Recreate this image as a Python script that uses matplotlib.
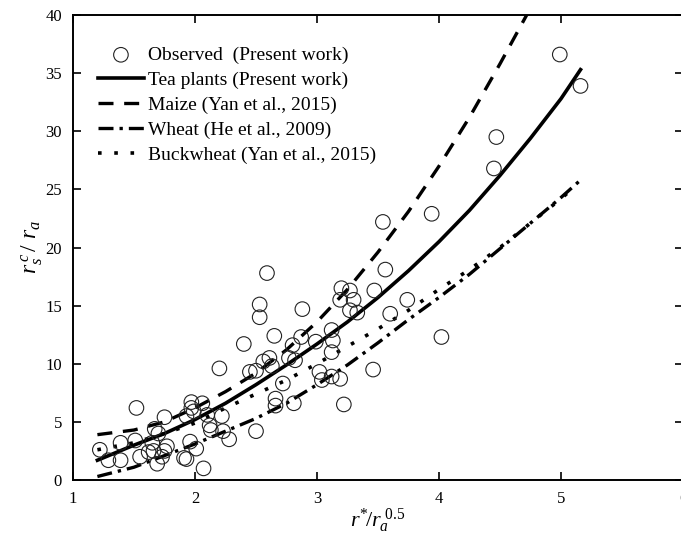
import numpy as np
import matplotlib
matplotlib.use("Agg")
import matplotlib.pyplot as plt

plt.rcParams['font.family'] = ['Liberation Serif', 'DejaVu Serif']
plt.rcParams['mathtext.fontset'] = 'custom'
plt.rcParams['mathtext.rm'] = 'Liberation Serif'
plt.rcParams['mathtext.it'] = 'Liberation Serif:italic'

# observed points
obs_x = [1.22, 1.29, 1.39, 1.39, 1.52, 1.51, 1.55, 1.62, 1.65, 1.67, 1.66, 1.69, 1.70,
         1.75, 1.77, 1.73, 1.75, 1.91, 1.93, 1.97, 1.97, 1.93, 1.99, 1.96, 2.01, 2.06,
         2.07, 2.10, 2.13, 2.12, 2.22, 2.23, 2.28, 2.20, 2.40, 2.45, 2.50, 2.53, 2.53,
         2.59, 2.50, 2.56, 2.61, 2.63, 2.65, 2.72, 2.66, 2.66, 2.81, 2.77, 2.80, 2.82,
         2.88, 2.87, 2.99, 3.02, 3.04, 3.12, 3.13, 3.12, 3.12, 3.19, 3.20, 3.27, 3.19,
         3.30, 3.27, 3.33, 3.47, 3.54, 3.56, 3.60, 3.74, 3.46, 3.22, 3.94, 4.02, 4.45,
         4.47, 4.99, 5.16]
obs_y = [2.6, 1.7, 1.7, 3.2, 6.2, 3.4, 2.0, 2.4, 3.2, 4.4, 2.5, 1.4, 4.0,
         5.4, 2.9, 2.0, 2.5, 1.9, 1.8, 6.7, 6.2, 5.5, 5.9, 3.3, 2.7, 6.6,
         1.0, 5.6, 4.3, 4.7, 5.5, 4.2, 3.5, 9.6, 11.7, 9.3, 9.4, 15.1, 14.0,
         17.8, 4.2, 10.2, 10.5, 9.8, 12.4, 8.3, 7.0, 6.4, 6.6, 10.5, 11.6, 10.3,
         14.7, 12.3, 11.9, 9.3, 8.6, 12.9, 12.0, 11.0, 8.9, 8.7, 16.5, 16.3, 15.5,
         15.5, 14.6, 14.4, 16.3, 22.2, 18.1, 14.3, 15.5, 9.5, 6.5, 22.9, 12.3, 26.8,
         29.5, 36.6, 33.9]

# fitted curves
tea_x = [1.2, 1.5, 1.75, 2.0, 2.25, 2.5, 2.75, 3.0, 3.25, 3.5, 3.75, 4.0, 4.25, 4.5, 4.75, 5.0, 5.16]
tea_y = [1.7, 3.0, 4.0, 5.2, 6.6, 8.2, 9.9, 11.7, 13.6, 15.7, 18.0, 20.5, 23.2, 26.2, 29.4, 32.8, 35.3]

maize_x = [1.2, 1.5, 1.75, 2.0, 2.25, 2.5, 2.75, 3.0, 3.25, 3.5, 3.75, 4.0, 4.25, 4.5, 4.75]
maize_y = [3.9, 4.3, 5.0, 6.2, 7.6, 9.2, 11.2, 13.6, 16.4, 19.6, 23.1, 27.0, 31.2, 35.8, 40.6]

wheat_x = [1.2, 1.5, 1.75, 2.0, 2.25, 2.5, 2.75, 3.0, 3.25, 3.5, 3.75, 4.0, 4.25, 4.5, 4.75, 5.0, 5.16]
wheat_y = [0.3, 1.1, 2.1, 3.1, 4.2, 5.3, 6.6, 8.2, 9.9, 11.8, 13.8, 15.7, 17.7, 19.9, 22.1, 24.3, 25.8]

buck_x = [1.2, 1.5, 1.75, 2.0, 2.25, 2.5, 2.75, 3.0, 3.25, 3.5, 3.75, 4.0, 4.25, 4.5, 4.75, 5.0, 5.12]
buck_y = [2.6, 3.2, 4.0, 4.9, 6.2, 7.4, 8.6, 10.0, 11.5, 13.0, 14.6, 16.4, 18.1, 20.0, 22.1, 24.2, 25.3]

fig = plt.figure(figsize=(6.81, 5.39), dpi=100)
ax = fig.add_axes([73/681, 59/539, 610/681, 465/539])

ax.scatter(obs_x, obs_y, s=110, facecolors='none', edgecolors='#222222', linewidths=0.8,
           label='Observed  (Present work)', zorder=3)
ax.plot(tea_x, tea_y, color='black', lw=2.6, label='Tea plants (Present work)')
ax.plot(maize_x, maize_y, color='black', lw=2.4, dashes=(4.5, 3.2), label='Maize (Yan et al., 2015)')
ax.plot(wheat_x, wheat_y, color='black', lw=2.4, dashes=(4.5, 1.8, 1.0, 1.8), label='Wheat (He et al., 2009)')
ax.plot(buck_x, buck_y, color='black', lw=2.6, dashes=(1.0, 3.5), label='Buckwheat (Yan et al., 2015)')

ax.set_xlim(1, 6)
ax.set_ylim(0, 40)
ax.set_xticks([1, 2, 3, 4, 5, 6])
ax.set_yticks(range(0, 41, 5))
ax.tick_params(direction='in', length=6, width=1.2, labelsize=12, top=True, right=True, pad=8)
for sp in ax.spines.values():
    sp.set_linewidth(1.4)

ax.set_xlabel(r'$r^{*}\!/r_a^{\ \mathrm{0.5}}$', fontsize=16, labelpad=0)
ax.set_ylabel(r'$r_s^{\,c}\,/\ r_a$', fontsize=17, labelpad=0)

ax.legend(loc='upper left', bbox_to_anchor=(0.018, 0.962), frameon=False, fontsize=14,
          handlelength=2.4, handletextpad=0.2, labelspacing=0.38, borderaxespad=0.3)

fig.savefig('out.png', dpi=100)
